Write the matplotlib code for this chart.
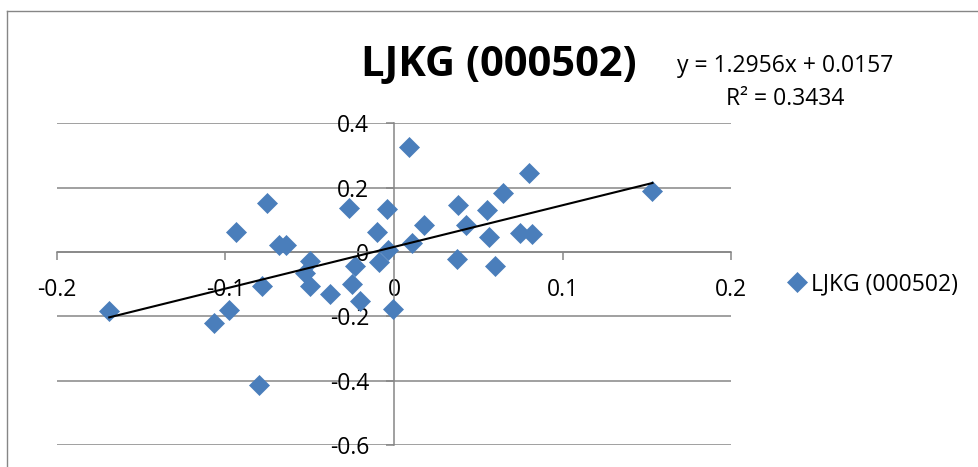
import matplotlib
matplotlib.use('Agg')
import matplotlib.pyplot as plt
from matplotlib.lines import Line2D
import numpy as np

# ---- data ----
x_vals = [-0.169, -0.107, -0.098, -0.094, -0.080, -0.0786, -0.0756, -0.068, -0.064,
          -0.053, -0.050, -0.050, -0.038, -0.0267, -0.0248, -0.023, -0.0202, -0.0103,
          -0.0087, -0.0043, -0.0034, -0.0004, 0.0089, 0.0109, 0.018, 0.0376, 0.0378,
          0.0428, 0.0554, 0.0564, 0.060, 0.0649, 0.0748, 0.0804, 0.0818, 0.1534]
y_vals = [-0.184, -0.221, -0.179, 0.062, -0.415, -0.107, 0.151, 0.021, 0.021,
          -0.065, -0.028, -0.107, -0.130, 0.137, -0.101, -0.045, -0.153, 0.062,
          -0.031, 0.133, 0.005, -0.176, 0.325, 0.028, 0.083, -0.023, 0.1455,
          0.083, 0.132, 0.047, -0.045, 0.184, 0.059, 0.244, 0.055, 0.189]
slope = 1.2956
intercept = 0.0157
r_squared = 0.3434
series_name = "LJKG (000502)"
x_ticks = [-0.2, -0.1, 0, 0.1, 0.2]
x_tick_labels = ['-0.2', '-0.1', '0', '0.1', '0.2']
y_ticks = [-0.6, -0.4, -0.2, 0, 0.2, 0.4]
y_tick_labels = ['-0.6', '-0.4', '-0.2', '0', '0.2', '0.4']

plt.rcParams['font.family'] = ['Open Sans', 'DejaVu Sans']

W, H = 979, 467
fig = plt.figure(figsize=(W / 100, H / 100), dpi=100)
ax = fig.add_axes([57 / W, 1 - 445 / H, 674 / W, 321.7 / H])
grid = '#868686'
ax.set_xlim(-0.2, 0.2)
ax.set_ylim(-0.6, 0.4)
for s in ['top', 'right']:
    ax.spines[s].set_visible(False)
ax.spines['left'].set_position(('data', 0))
ax.spines['bottom'].set_position(('data', 0))
for s in ['left', 'bottom']:
    ax.spines[s].set_color(grid)
    ax.spines[s].set_linewidth(1.1)
ax.set_xticks(x_ticks, x_tick_labels)
ax.set_yticks(y_ticks, y_tick_labels)
ax.tick_params(axis='x', direction='out', length=5.8, width=1.1, color=grid, pad=13, labelsize=16.5)
ax.tick_params(axis='y', direction='out', length=5.8, width=1.1, color=grid, pad=12, labelsize=16.5)
ax.yaxis.grid(True, color=grid, linewidth=1.1)
ax.set_axisbelow(True)

pts, = ax.plot(x_vals, y_vals, 'D', ms=10, color='#4A7EBB', mec='#4A7EBB', mew=0.5,
               label=series_name, zorder=3, clip_on=False)
xx = np.array([min(x_vals), max(x_vals)])
ax.plot(xx, slope * xx + intercept, color='black', lw=1.5, zorder=4)

ax.legend(handles=[pts], loc='center left', bbox_to_anchor=(788 / W, 1 - 284 / H),
          bbox_transform=fig.transFigure, frameon=False, fontsize=16.5,
          handlelength=0.8, handletextpad=0.2, borderpad=0, borderaxespad=0, numpoints=1)

fig.text(499 / W, 1 - 76 / H, series_name, ha='center', va='baseline', fontsize=30, fontweight='bold')
fig.text(785 / W, 1 - 71.7 / H, f'y = {slope}x + {intercept}', ha='center', va='baseline', fontsize=16.5)
fig.text(785 / W, 1 - 105 / H, f'R² = {r_squared}', ha='center', va='baseline', fontsize=16.5)

fig.add_artist(Line2D([7 / W, 7 / W], [0, 1 - 11 / H], transform=fig.transFigure, color=grid, lw=1.0))
fig.add_artist(Line2D([7 / W, 1], [1 - 11 / H, 1 - 11 / H], transform=fig.transFigure, color=grid, lw=1.0))

fig.savefig('out.png', dpi=100)
